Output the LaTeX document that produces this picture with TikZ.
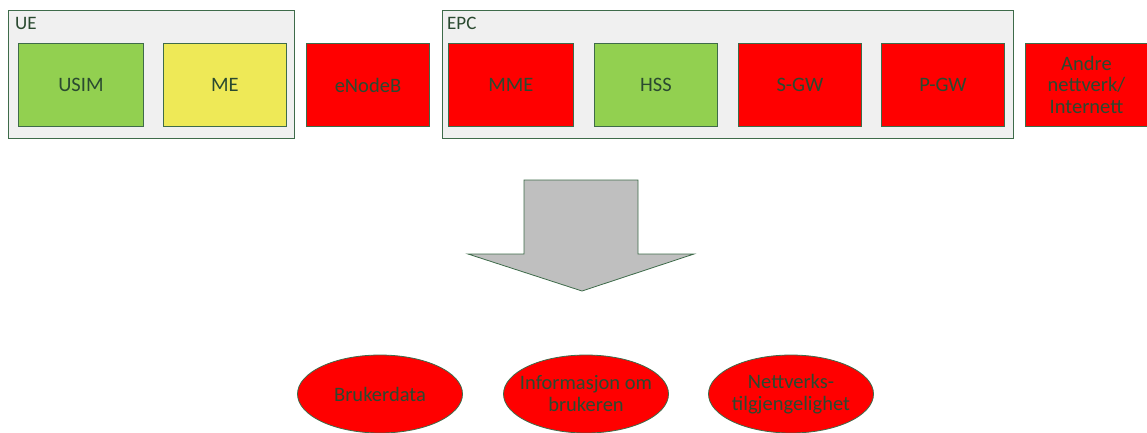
\documentclass[tikz,border=0pt]{standalone}
\usepackage{fontspec}
\setmainfont{Carlito}
\usetikzlibrary{shapes.geometric}
\definecolor{bord}{HTML}{3E6B4A}
\definecolor{txt}{HTML}{2A4A30}
\definecolor{cont}{HTML}{F0F0F0}
\definecolor{grn}{HTML}{92D050}
\definecolor{ylw}{HTML}{EEE957}
\definecolor{rd}{HTML}{FF0000}
\definecolor{gry}{HTML}{BFBFBF}
\tikzset{
  container/.style={draw=bord, fill=cont, line width=0.9pt},
  boxnode/.style={draw=bord, line width=0.9pt, minimum width=123pt, minimum height=83pt, inner sep=0pt, text=txt, font=\fontsize{20.5}{21.5}\selectfont, align=center, anchor=north west},
  ell/.style={ellipse, draw=bord, fill=rd, line width=0.8pt, minimum width=165pt, minimum height=78pt, inner sep=0pt,
     label={[text=txt, font=\fontsize{20.5}{22}\selectfont, align=center, inner sep=0pt]center:#1}},
  lbl/.style={text=txt, font=\fontsize{19}{20}\selectfont, anchor=west, inner sep=0pt}
}
\begin{document}
\begin{tikzpicture}[x=1pt,y=-1pt]
\useasboundingbox (0,0) rectangle (1147,432);
% containers
\draw[container] (8,10) rectangle (294,138);
\node[lbl] (ue) at (15,23) {UE};
\draw[container] (442,10) rectangle (1013,138);
\node[lbl] (epc) at (447,23) {EPC};
% boxes
\node[boxnode, fill=grn, minimum width=125pt] (usim) at (18,43) {USIM};
\node[boxnode, fill=ylw] (me) at (163,43) {ME};
\node[boxnode, fill=rd] (enb) at (306,43) {eNodeB};
\node[boxnode, fill=rd, minimum width=125pt] (mme) at (448,43) {MME};
\node[boxnode, fill=grn] (hss) at (594,43) {HSS};
\node[boxnode, fill=rd] (sgw) at (738,43) {S-GW};
\node[boxnode, fill=rd] (pgw) at (881,43) {P-GW};
\node[boxnode, fill=rd, minimum width=122pt] (andre) at (1025,43) {Andre\\nettverk/\\Internett};
% arrow
\draw[draw=bord, fill=gry, line width=0.8pt] (524,180) -- (638,180) -- (638,254) -- (694,254) -- (582,291) -- (468,254) -- (524,254) -- cycle;
% ellipses
\node[ell={Brukerdata}] (bd) at (380,394) {};
\node[ell={Informasjon om\\brukeren}] (info) at (586,394) {};
\node[ell={Nettverks-\\tilgjengelighet}] (nett) at (791,394) {};
\end{tikzpicture}
\end{document}
